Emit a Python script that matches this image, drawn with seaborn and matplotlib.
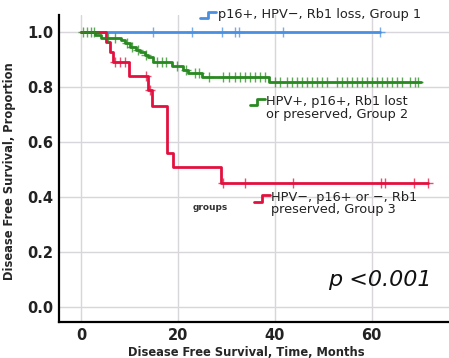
import numpy as np
import pandas as pd
import matplotlib
matplotlib.use("Agg")
import matplotlib.pyplot as plt
import seaborn as sns

# -----------------------------
# Kaplan-Meier step data (months, proportion)
# -----------------------------
g1_times = [0.0]
g1_surv = [1.0]
g1_end = 61.8
g1_censor = [14.9, 22.9, 29.1, 31.8, 32.6, 41.7, 61.8]

g2_times = [0.0, 2.9, 4.1, 8.3, 9.1, 10.1, 11.4, 12.2, 13.2, 13.8, 14.9,
            18.8, 21.1, 22.1, 25.0, 38.8]
g2_surv = [1.0, 0.989, 0.978, 0.971, 0.960, 0.945, 0.935, 0.927, 0.916,
           0.909, 0.891, 0.876, 0.862, 0.851, 0.836, 0.818]
g2_end = 70.2
g2_censor = [0.4, 1.2, 2.1, 2.7, 5.5, 7.0, 9.5, 10.6, 11.8, 13.5, 15.7,
             16.7, 17.6, 19.8, 21.6, 23.5, 24.3, 26.5, 29.3, 30.5, 31.8,
             32.8, 33.8, 34.9, 35.9, 36.9, 38.0, 40.1, 41.1, 42.6, 43.6,
             44.6, 45.7, 46.7, 47.7, 48.8, 49.8, 50.8, 52.9, 53.9, 55.0,
             56.0, 57.0, 58.1, 59.1, 60.1, 61.2, 62.2, 63.2, 64.3, 65.3,
             66.3, 68.0, 69.0, 69.6]

g3_times = [0.0, 5.2, 6.0, 6.6, 9.9, 13.8, 14.7, 17.8, 19.0, 28.9]
g3_surv = [1.0, 0.963, 0.926, 0.889, 0.840, 0.789, 0.731, 0.560, 0.509, 0.451]
g3_end = 71.7
g3_censor = [7.0, 8.1, 9.1, 13.4, 14.2, 29.3, 33.9, 43.8, 62.0, 62.8,
             68.8, 71.7]

groups = ["Group 1", "Group 2", "Group 3"]
labels = ["p16+, HPV\u2212, Rb1 loss, Group 1",
          "HPV+, p16+, Rb1 lost\nor preserved, Group 2",
          "HPV\u2212, p16+ or \u2212, Rb1\npreserved, Group 3"]
colors = {"Group 1": "#4a90e2", "Group 2": "#2a8a22", "Group 3": "#e2103f"}

# -----------------------------
# Build tables
# -----------------------------
steps = []
cens = []
for g, t, s, end, c in [("Group 1", g1_times, g1_surv, g1_end, g1_censor),
                        ("Group 2", g2_times, g2_surv, g2_end, g2_censor),
                        ("Group 3", g3_times, g3_surv, g3_end, g3_censor)]:
    for ti, si in zip(t + [end], s + [s[-1]]):
        steps.append({"time": ti, "surv": si, "group": g})
    idx = np.searchsorted(t, c, side="right") - 1
    for ci, k in zip(c, idx):
        cens.append({"time": ci, "surv": s[k], "group": g})
steps = pd.DataFrame(steps)
cens = pd.DataFrame(cens)

# -----------------------------
# Plot
# -----------------------------
sns.set_style("white")
plt.rcParams["font.family"] = ["DejaVu Sans"]

fig = plt.figure(figsize=(4.49, 3.58), dpi=100)
ax = fig.add_axes([0.1314, 0.1006, 0.8686, 0.858])

for x in [0, 20, 40, 60]:
    ax.axvline(x, color="#d8d6da", lw=1, zorder=0)
for y in [0, 0.2, 0.4, 0.6, 0.8, 1.0]:
    ax.axhline(y, color="#d8d6da", lw=1, zorder=0)

sns.lineplot(data=steps, x="time", y="surv", hue="group", palette=colors,
             estimator=None, sort=False, drawstyle="steps-post", lw=2,
             legend=False, ax=ax)
sns.scatterplot(data=cens, x="time", y="surv", hue="group", palette=colors,
                marker="+", s=50, linewidth=1, alpha=0.75, legend=False,
                ax=ax, zorder=3)

ax.set_xlim(-4.55, 76)
ax.set_ylim(-0.055, 1.062)
ax.set_xticks([0, 20, 40, 60])
ax.set_yticks([0.0, 0.2, 0.4, 0.6, 0.8, 1.0])
ax.set_yticklabels(["0.0", "0.2", "0.4", "0.6", "0.8", "1.0"])
ax.tick_params(length=0, labelsize=10.5, pad=4)
for lab in ax.get_xticklabels() + ax.get_yticklabels():
    lab.set_fontweight("bold")
    lab.set_color("#222222")

for side in ["top", "right"]:
    ax.spines[side].set_visible(False)
for side in ["left", "bottom"]:
    ax.spines[side].set_color("black")
    ax.spines[side].set_linewidth(1.6)

ax.set_xlabel("Disease Free Survival, Time, Months", fontsize=8.3,
              fontweight="bold")
ax.set_ylabel("Disease Free Survival, Proportion", fontsize=8.3,
              fontweight="bold")
ax.xaxis.set_label_coords(0.48, -0.078)
ax.yaxis.set_label_coords(-0.11, 0.49)

# group labels with small step icons
icon_pos = [(24.6, 1.062), (34.8, 0.745), (35.8, 0.393)]
text_pos = [(28.3, 1.062), (38.2, 0.724), (39.3, 0.375)]
for g, lab, (ix, iy), (tx, ty) in zip(groups, labels, icon_pos, text_pos):
    ax.plot([ix, ix + 1.6, ix + 1.6, ix + 3.3],
            [iy - 0.012, iy - 0.012, iy + 0.012, iy + 0.012],
            color=colors[g], lw=2, clip_on=False)
    ax.text(tx, ty, lab, fontsize=9.3, va="center", ha="left",
            linespacing=0.95, color="#222222", clip_on=False)

ax.text(23.1, 0.36, "groups", fontsize=6.5, fontweight="bold",
        color="#333333", va="center")
ax.text(51.0, 0.098, "p <0.001", fontsize=16, style="italic",
        va="center", ha="left", color="#111111")

fig.savefig("out.png", dpi=100)
